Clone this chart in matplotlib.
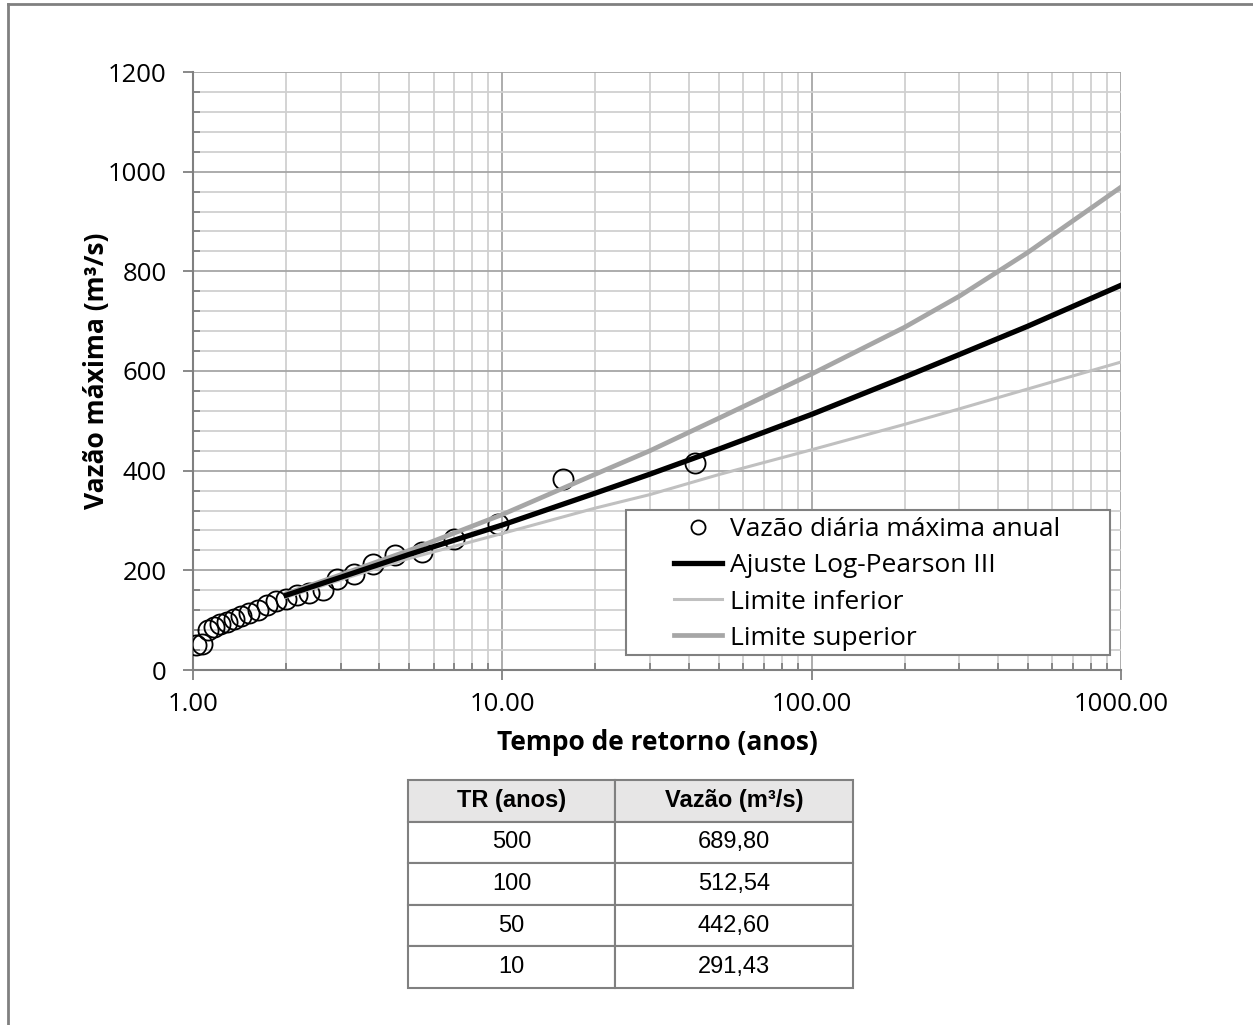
import matplotlib
matplotlib.use("Agg")
import matplotlib.pyplot as plt
from matplotlib.lines import Line2D
from matplotlib.patches import Rectangle
from matplotlib.ticker import FixedLocator, FuncFormatter, LogLocator, MultipleLocator

plt.rcParams['font.family'] = ['Open Sans', 'DejaVu Sans']

# Observed annual maximum daily flows (return period, flow)
obs_T = [42.0, 15.75, 9.69, 7.0, 5.48, 4.5, 3.82, 3.32, 2.93, 2.63, 2.38, 2.17,
         2.0, 1.85, 1.73, 1.62, 1.52, 1.43, 1.36, 1.29, 1.22, 1.17, 1.12, 1.07, 1.02]
obs_Q = [415, 383, 293, 262, 237, 230, 212, 192, 182, 160, 155, 150,
         143, 138, 130, 120, 114, 108, 102, 97, 92, 86, 80, 52, 50]

# Fitted curve and confidence limits
curve_T = [2, 3, 5, 10, 20, 30, 50, 100, 200, 300, 500, 1000]
fit_Q = [150, 186, 232, 291, 355, 393, 443, 513, 588, 633, 690, 772]
lower_Q = [146, 181, 224, 274, 325, 352, 392, 442, 493, 524, 564, 618]
upper_Q = [153, 191, 240, 312, 393, 440, 505, 594, 688, 750, 838, 969]

# Table
table_cols = ["TR (anos)", "Vazão (m³/s)"]
table_TR = ["500", "100", "50", "10"]
table_Q = ["689,80", "512,54", "442,60", "291,43"]

W, H = 1253, 1025
fig = plt.figure(figsize=(W / 100, H / 100), dpi=100)
fig.patch.set_facecolor("white")

# outer border (top and left visible)
fig.add_artist(Line2D([8 / W, 1], [1 - 4 / H, 1 - 4 / H], color="#808080", lw=2, transform=fig.transFigure))
fig.add_artist(Line2D([8 / W, 8 / W], [1 - 4 / H, 0], color="#808080", lw=2, transform=fig.transFigure))

AX_L, AX_R, AX_T, AX_B = 193, 1121, 72, 670
ax = fig.add_axes([AX_L / W, 1 - AX_B / H, (AX_R - AX_L) / W, (AX_B - AX_T) / H])
ax.set_xscale("log")
ax.set_xlim(1, 1000)
ax.set_ylim(0, 1200)

ax.yaxis.set_major_locator(MultipleLocator(200))
ax.yaxis.set_minor_locator(MultipleLocator(40))
ax.xaxis.set_major_locator(FixedLocator([1, 10, 100, 1000]))
ax.xaxis.set_minor_locator(LogLocator(base=10, subs=range(2, 10)))
ax.xaxis.set_major_formatter(FuncFormatter(lambda v, p: f"{v:.2f}"))
ax.xaxis.set_minor_formatter(FuncFormatter(lambda v, p: ""))

ax.grid(which="major", color="#a6a6a6", lw=1.3)
ax.grid(which="minor", color="#d0d0d0", lw=1.3)
ax.set_axisbelow(True)

for s in ["top", "right"]:
    ax.spines[s].set_visible(False)
for s in ["left", "bottom"]:
    ax.spines[s].set_color("#808080")
    ax.spines[s].set_linewidth(1.5)

ax.tick_params(which="major", direction="out", length=7, width=1.3, color="#808080",
               labelsize=18.5, pad=9)
ax.tick_params(axis="y", which="major", pad=12)
ax.tick_params(which="minor", direction="in", length=5, width=1.3, color="#808080")

ax.plot(obs_T, obs_Q, linestyle="none", marker="o", markersize=14.5, markerfacecolor="none",
        markeredgecolor="black", markeredgewidth=1.3, zorder=3, label="Vazão diária máxima anual")
ax.plot(curve_T, fit_Q, color="black", lw=3.8, zorder=6, label="Ajuste Log-Pearson III")
ax.plot(curve_T, lower_Q, color="#c0c0c0", lw=2.2, zorder=4, label="Limite inferior")
ax.plot(curve_T, upper_Q, color="#a6a6a6", lw=3.4, zorder=5, label="Limite superior")

ax.set_xlabel("Tempo de retorno (anos)", fontsize=19, fontweight="bold")
ax.set_ylabel("Vazão máxima (m³/s)", fontsize=19, fontweight="bold")
ax.xaxis.set_label_coords(0.5, (AX_B - 743) / (AX_B - AX_T))
ax.xaxis.label.set_va("center")
ax.yaxis.set_label_coords((97 - AX_L) / (AX_R - AX_L), 0.5)
ax.yaxis.label.set_va("center")

# legend frame (Excel style, wide padding)
def fx(px):
    return (px - AX_L) / (AX_R - AX_L)

def fy(py):
    return (AX_B - py) / (AX_B - AX_T)

frame = Rectangle((fx(626), fy(655)), fx(1110) - fx(626), fy(510) - fy(655),
                  transform=ax.transAxes, facecolor="white", edgecolor="#808080",
                  lw=1.5, zorder=9)
ax.add_patch(frame)
leg = ax.legend(loc="center", bbox_to_anchor=(fx(867), fy(584)),
                fontsize=19, frameon=False, markerscale=0.7,
                handlelength=1.85, handletextpad=0.3, labelspacing=0.42, borderpad=0,
                borderaxespad=0)
leg.set_zorder(10)

# Table
tax = fig.add_axes([408 / W, 1 - 988 / H, (853 - 408) / W, (988 - 780) / H])
tax.axis("off")
cells = [[a, b] for a, b in zip(table_TR, table_Q)]
tbl = tax.table(cellText=cells, colLabels=table_cols, bbox=[0, 0, 1, 1],
                cellLoc="center", colWidths=[(615 - 408), (853 - 615)])
tbl.auto_set_font_size(False)
for (r, c), cell in tbl.get_celld().items():
    cell.set_edgecolor("#808080")
    cell.set_linewidth(1.5)
    t = cell.get_text()
    t.set_fontfamily("Liberation Sans")
    t.set_fontsize(17)
    if r == 0:
        cell.set_facecolor("#e7e6e6")
        t.set_fontweight("bold")

fig.savefig("out.png", dpi=100)
